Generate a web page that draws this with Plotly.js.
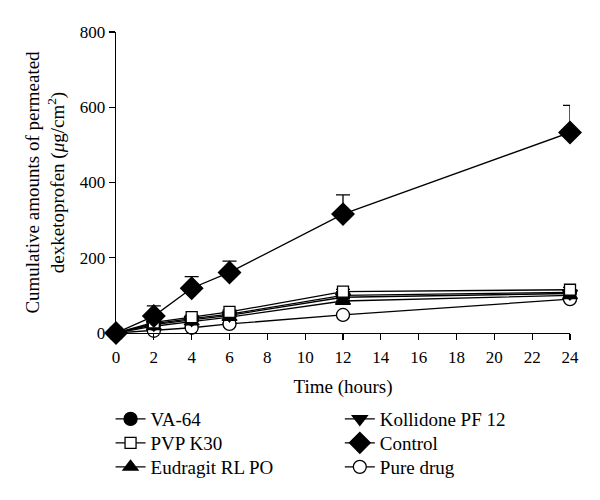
<!DOCTYPE html>
<html>
<head>
<meta charset="utf-8">
<script src="https://cdn.plot.ly/plotly-3.0.1.min.js"></script>
<style>html,body{margin:0;padding:0;background:#fff;}#chart{width:600px;height:500px;}</style>
</head>
<body>
<div id="chart"></div>
<script>
const times = [0, 2, 4, 6, 12, 24];
const va64 = [0, 25, 38, 50, 100, 108];
const va64Err = [0, 4, 5, 5, 6, 6];
const pvpK30 = [0, 28, 42, 56, 110, 115];
const pvpK30Err = [0, 4, 5, 5, 6, 6];
const eudragit = [0, 18, 30, 42, 85, 100];
const eudragitErr = [0, 3, 4, 4, 6, 6];
const kollidone = [0, 22, 35, 47, 95, 105];
const kollidoneErr = [0, 3, 4, 4, 6, 6];
const control = [0, 45, 119, 161, 316, 533];
const controlErr = [0, 27, 31, 30, 51, 72];
const pureDrug = [0, 6, 14, 24, 48, 90];
const pureDrugErr = [0, 2, 3, 3, 4, 5];
const xTicks = [0, 2, 4, 6, 8, 10, 12, 14, 16, 18, 20, 22, 24];
const yTicks = [0, 200, 400, 600, 800];

const FONT = "'Liberation Serif', 'Times New Roman', serif";

function mk(name, y, err, symbol, size, legend, fill) {
  return {
    x: times, y: y, name: name, type: 'scatter', mode: 'lines+markers',
    legend: legend, cliponaxis: false,
    line: {color: '#000', width: 1.3},
    marker: {symbol: symbol, size: size, color: fill ? '#000' : '#fff', line: {color: '#000', width: 1.3}},
    error_y: {type: 'data', array: err, arrayminus: err.map(() => 0), symmetric: false, color: '#000', thickness: 1.3, width: 7}
  };
}

const traces = [
  mk('Pure drug', pureDrug, pureDrugErr, 'circle', 13, 'legend6', false),
  mk('Eudragit RL PO', eudragit, eudragitErr, 'triangle-up', 13, 'legend3', true),
  mk('Kollidone PF 12', kollidone, kollidoneErr, 'triangle-down', 13, 'legend4', true),
  mk('VA-64', va64, va64Err, 'circle', 13, 'legend', true),
  mk('PVP K30', pvpK30, pvpK30Err, 'square', 11, 'legend2', false),
  mk('Control', control, controlErr, 'diamond', 17, 'legend5', true)
];

function leg(x, y) {
  return {
    x: x, xref: 'paper', xanchor: 'left', y: y, yref: 'paper', yanchor: 'middle',
    font: {family: FONT, size: 19}, bgcolor: 'rgba(0,0,0,0)', borderwidth: 0
  };
}
const col1 = -0.012, col2 = 0.493;
const row1 = -0.2858, row2 = -0.3655, row3 = -0.4452;

const layout = {
  width: 600, height: 500,
  margin: {l: 116, r: 30, t: 32, b: 167, autoexpand: false},
  paper_bgcolor: '#fff', plot_bgcolor: '#fff',
  font: {family: FONT, size: 17, color: '#000'},
  showlegend: true,
  xaxis: {
    range: [0, 24], tickvals: xTicks, ticktext: xTicks.map(String),
    showgrid: false, zeroline: false, showline: true, linecolor: '#000', linewidth: 1.3,
    ticks: 'outside', ticklen: 6, tickwidth: 1.3, tickcolor: '#000',
    tickfont: {family: FONT, size: 17}, ticklabelstandoff: 2,
    title: {text: 'Time (hours)', font: {family: FONT, size: 19}, standoff: 14}
  },
  yaxis: {
    range: [0, 800], tickvals: yTicks, ticktext: yTicks.map(String),
    showgrid: false, zeroline: false, showline: true, linecolor: '#000', linewidth: 1.3,
    ticks: 'outside', ticklen: 6, tickwidth: 1.3, tickcolor: '#000',
    tickfont: {family: FONT, size: 17},
    title: {text: 'Cumulative amounts of permeated<br>dexketoprofen (<i>μ</i>g/cm<sup>2</sup>)', font: {family: FONT, size: 19}, standoff: 10}
  },
  legend: leg(col1, row1),
  legend2: leg(col1, row2),
  legend3: leg(col1, row3),
  legend4: leg(col2, row1),
  legend5: leg(col2, row2),
  legend6: leg(col2, row3)
};

Plotly.newPlot('chart', traces, layout, {displayModeBar: false, staticPlot: true});
</script>
</body>
</html>
